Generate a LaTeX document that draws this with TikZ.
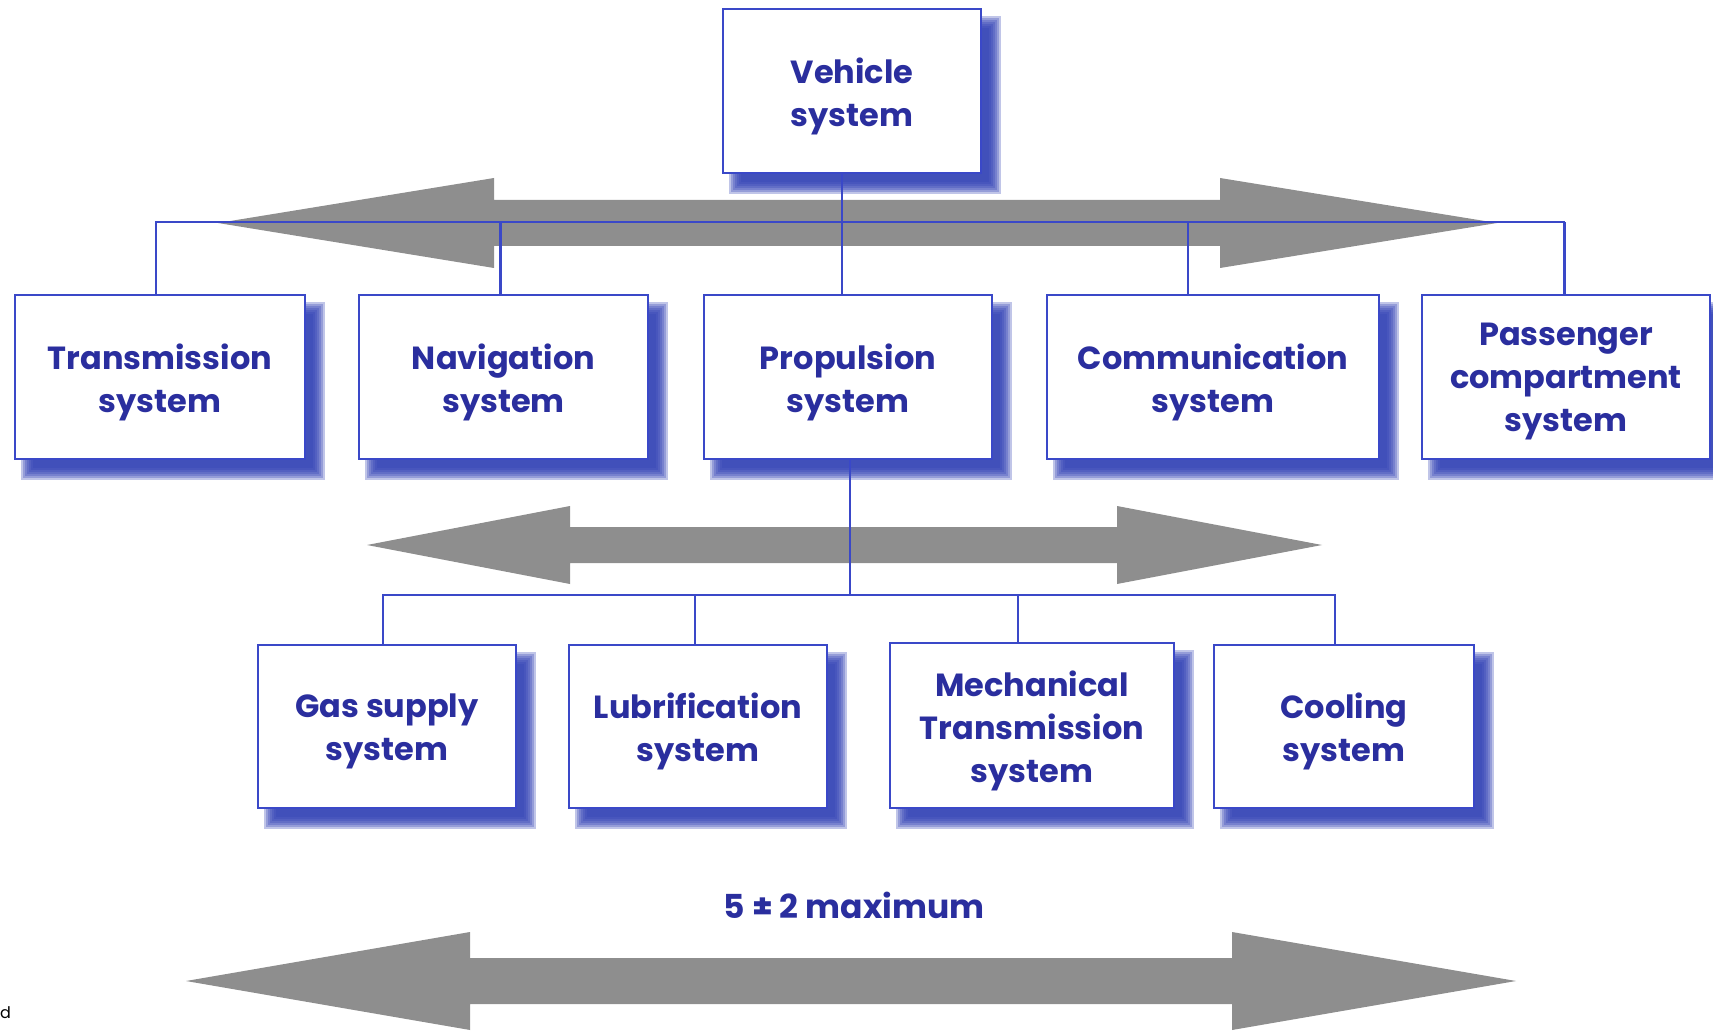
\documentclass[tikz,border=0pt]{standalone}
\usepackage{fontspec}
\setmainfont{Poppins}
\usetikzlibrary{backgrounds,calc}

\definecolor{txtblue}{HTML}{2A2E9E}
\definecolor{lineblue}{HTML}{3A48C8}
\definecolor{shadeblue}{HTML}{3040B4}
\definecolor{arrowgray}{HTML}{8E8E8E}

% a box given by its corners (x1,y1) and (x2,y2), its label set a little low
\newcommand\sysnode[6]{%
  \node[sysbox, minimum width={#4-#2}, minimum height={#5-#3}]
    (#1) at ({(#2+#4)/2},{(#3+#5)/2}) {};
  \node[systext] (#1-label) at ([yshift=-5pt]#1.center) {#6};}

% soft blue drop shadow behind a named box
\newcommand\boxshade[1]{%
  \foreach \s in {-6,-4,-2,0,2,4,6}{%
    \fill[shadeblue, opacity=0.3]
      ($(#1.north west)+(13+\s,14+\s)$) rectangle ($(#1.south east)+(13-\s,14-\s)$);}}

\begin{document}
\begin{tikzpicture}[x=1pt, y=-1pt,
  sysbox/.style={draw=lineblue, line width=2pt, fill=white, inner sep=0pt},
  systext/.style={align=center, text=txtblue, inner sep=0pt,
    font=\bfseries\fontsize{32}{43}\selectfont},
  link/.style={draw=lineblue, line width=2.2pt},
  fatarrow/.style={fill=arrowgray}]

\useasboundingbox (0,0) rectangle (1713,1032);

% wide double arrows
\fill[fatarrow] (218,223) -- (494,178) -- (494,200) -- (1220,200) -- (1220,178)
  -- (1497,223) -- (1220,268) -- (1220,246) -- (494,246) -- (494,268) -- cycle;
\fill[fatarrow] (367,545) -- (570,506) -- (570,527) -- (1117,527) -- (1117,506)
  -- (1322,545) -- (1117,584) -- (1117,563) -- (570,563) -- (570,584) -- cycle;
\fill[fatarrow] (186,981) -- (470,932) -- (470,958) -- (1232,958) -- (1232,932)
  -- (1516,981) -- (1232,1030) -- (1232,1004) -- (470,1004) -- (470,1030) -- cycle;

% boxes
\sysnode{veh}{723}{9}{981}{173}{Vehicle\\system}
\sysnode{trans}{15}{295}{305}{459}{Transmission\\system}
\sysnode{nav}{359}{295}{648}{459}{Navigation\\system}
\sysnode{prop}{704}{295}{992}{459}{Propulsion\\system}
\sysnode{comm}{1047}{295}{1379}{459}{Communication\\system}
\sysnode{pass}{1422}{295}{1710}{459}{Passenger\\compartment\\system}
\sysnode{gas}{258}{645}{516}{808}{Gas supply\\system}
\sysnode{lub}{569}{645}{827}{808}{Lubrification\\system}
\sysnode{mech}{890}{643}{1174}{808}{Mechanical\\Transmission\\system}
\sysnode{cool}{1214}{645}{1474}{808}{Cooling\\system}

\begin{scope}[on background layer]
  \foreach \b in {veh,trans,nav,prop,comm,pass,gas,lub,mech,cool}{\boxshade{\b}}
\end{scope}

% first level connectors
\coordinate (busA) at (0,222);
\draw[link] ([xshift=-4pt]trans.north) -- ([xshift=-4pt]trans.north |- busA)
  -- ([xshift=-2pt]pass.north |- busA) -- ([xshift=-2pt]pass.north);
\draw[link, line width=3pt] ([xshift=-3pt]nav.north) -- ([xshift=-3pt]nav.north |- busA);
\draw[link] ([xshift=-10pt]veh.south) -- ([xshift=-10pt]veh.south |- prop.north);
\draw[link] ([xshift=-25pt]comm.north) -- ([xshift=-25pt]comm.north |- busA);
\draw[link, line width=3pt] ([xshift=-2pt]pass.north) -- ([xshift=-2pt]pass.north |- busA);

% second level connectors
\coordinate (busB) at (0,595);
\draw[link] ([xshift=2pt]prop.south) -- ([xshift=2pt]prop.south |- busB);
\draw[link] ([xshift=-4pt]gas.north) -- ([xshift=-4pt]gas.north |- busB)
  -- ([xshift=-9pt]cool.north |- busB) -- ([xshift=-9pt]cool.north);
\draw[link] ([xshift=-3pt]lub.north) -- ([xshift=-3pt]lub.north |- busB);
\draw[link] ([xshift=-14pt]mech.north) -- ([xshift=-14pt]mech.north |- busB);

% span label
\node[text=txtblue, font=\bfseries\fontsize{33}{40}\selectfont] (span) at (854,905)
  {5 ± 2 maximum};

\node[anchor=west, inner sep=0pt, font=\fontsize{16}{18}\selectfont] (mark) at (0,1013) {d};
\end{tikzpicture}
\end{document}
